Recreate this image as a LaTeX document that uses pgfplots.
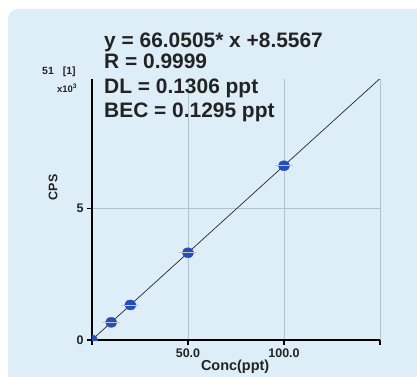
\documentclass[border=0pt]{standalone}
\usepackage{fontspec}
\setmainfont{Liberation Sans}
\usepackage{pgfplots}
\pgfplotsset{compat=1.18}
\definecolor{bg}{RGB}{221,238,248}
\definecolor{gridc}{RGB}{178,194,204}
\definecolor{mk}{RGB}{38,78,185}
\definecolor{txt}{RGB}{35,35,35}
\begin{document}
\begin{tikzpicture}[x=1bp,y=1bp]
\useasboundingbox (0,0) rectangle (417,377);
\fill[bg, rounded corners=10bp] (8,-20) rectangle (440,368);
\begin{axis}[
  at={(92bp,37bp)}, anchor=south west,
  scale only axis, width=288bp, height=261bp,
  xmin=0, xmax=150, ymin=0, ymax=9.9,
  axis x line=bottom, axis y line=left,
  axis line style={-, line width=1.2bp, black},
  xtick={0,50,100,150}, xticklabels={,50.0,100.0,},
  ytick={0,5}, yticklabels={0,5},
  grid=major, major grid style={gridc, line width=0.8bp},
  tick align=outside, major tick length=5bp,
  tick style={black, line width=1.2bp},
  ticklabel style={font=\bfseries\fontsize{12.5}{14}\selectfont, text=txt},
  /pgf/number format/assume math mode=true,
  clip marker paths=true,
  xlabel={Conc(ppt)}, ylabel={CPS},
  xlabel style={font=\bfseries\fontsize{14.5}{16}\selectfont, text=txt, at={(axis description cs:0.497,0)}, anchor=north, yshift=-17bp},
  ylabel style={font=\bfseries\fontsize{12.5}{14}\selectfont, text=txt, at={(axis description cs:-0.135,0.585)}, anchor=center},
]
\addplot[no marks, black!85, line width=0.7bp] coordinates {(0,0.0086) (150,9.9161)};
\addplot[only marks, mark=*, mark size=5bp, mark options={draw=mk, fill=mk, xscale=1.15}] coordinates {(0,0) (10,0.67) (20,1.33) (50,3.31) (100,6.61)};
\addplot[only marks, mark=-, mark size=9bp, mark options={draw=gray!45, line width=0.8bp}] coordinates {(10,0.67) (20,1.33) (50,3.31) (100,6.61)};
\end{axis}
\begin{scope}[every node/.style={anchor=base west, inner sep=0pt, text=txt}]
\node[font=\bfseries\fontsize{21}{21}\selectfont] at (104,330) {y = 66.0505* x +8.5567};
\node[font=\bfseries\fontsize{21}{21}\selectfont] at (104,309) {R = 0.9999};
\node[font=\bfseries\fontsize{21}{21}\selectfont] at (104,284) {DL = 0.1306 ppt};
\node[font=\bfseries\fontsize{21}{21}\selectfont] at (104,260) {BEC = 0.1295 ppt};
\node[font=\bfseries\fontsize{10.5}{11}\selectfont] at (42,303) {51\hspace{9bp}[1]};
\node[font=\bfseries\fontsize{9.5}{10}\selectfont] at (57,285) {x10\textsuperscript{3}};
\end{scope}
\end{tikzpicture}
\end{document}
